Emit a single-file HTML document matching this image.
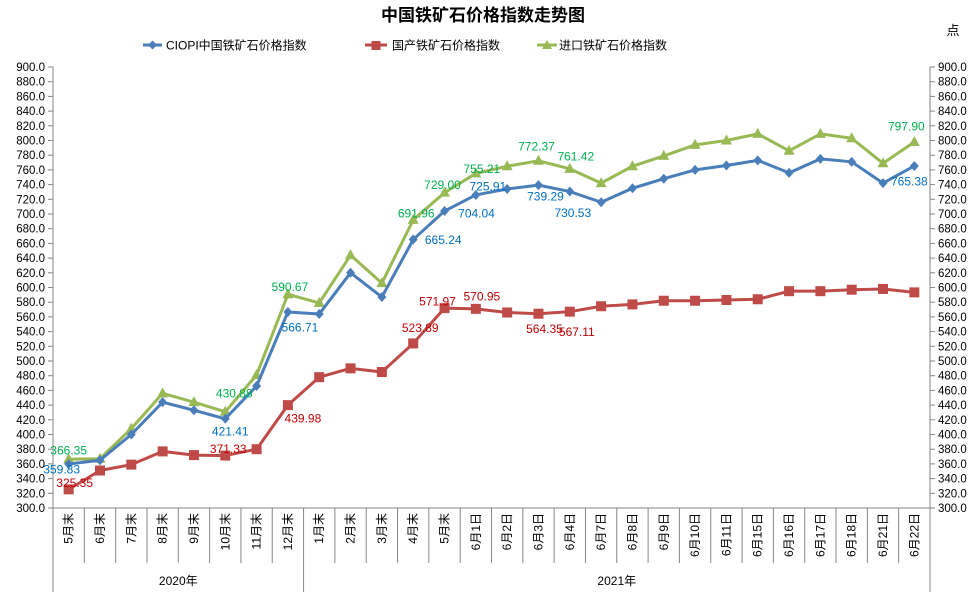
<!DOCTYPE html>
<html><head><meta charset="utf-8"><style>
html,body{margin:0;padding:0;background:#fff;}
svg{display:block;font-family:"Liberation Sans","Noto Sans CJK SC",sans-serif;}
</style></head><body>
<svg id="chart" width="977" height="592" viewBox="0 0 977 592">
<text x="483" y="21" text-anchor="middle" font-size="17" font-weight="bold" fill="#000">中国铁矿石价格指数走势图</text>
<text x="953" y="35" text-anchor="middle" font-size="13" fill="#000">点</text>
<g>
<g><line x1="143" y1="45" x2="162" y2="45" stroke="#4a7ebb" stroke-width="3"/><path d="M152.5 40.5 L157 45 L152.5 49.5 L148 45Z" fill="#4a7ebb"/><text x="166" y="49.5" font-size="12">CIOPI中国铁矿石价格指数</text></g>
<g><line x1="365" y1="45" x2="387" y2="45" stroke="#be4b48" stroke-width="3"/><rect x="371.5" y="41" width="9" height="9" fill="#be4b48"/><text x="392" y="49.5" font-size="12">国产铁矿石价格指数</text></g>
<g><line x1="537" y1="45" x2="557" y2="45" stroke="#98b954" stroke-width="3"/><path d="M547 40 L552 49 L542 49Z" fill="#98b954"/><text x="559" y="49.5" font-size="12">进口铁矿石价格指数</text></g>
</g>
<g id="axes"></g>
<g id="series"></g>
<g id="labels"></g>
</svg>
<script>
const categories=["5月末","6月末","7月末","8月末","9月末","10月末","11月末","12月末","1月末","2月末","3月末","4月末","5月末","6月1日","6月2日","6月3日","6月4日","6月7日","6月8日","6月9日","6月10日","6月11日","6月15日","6月16日","6月17日","6月18日","6月21日","6月22日"];
const groups=[{name:"2020年",start:0,end:8},{name:"2021年",start:8,end:28}];
const ciopi=[359.83,365,400,444,433,421.41,466,566.71,564,620,587,665.24,704.04,725.91,734,739.29,730.53,716,735,748,760,766,773,756,775,771,742,765.38];
const domestic=[325.35,351,359,377,372,371.33,380,439.98,478,490,485,523.89,571.97,570.95,566,564.35,567.11,574.5,577,582,582,583,584,595,595,597,598,593.36];
const imported=[366.35,367,408,456,444,430.88,481,590.67,579,644,606,691.96,729.00,755.21,765,772.37,761.42,742,765,779,794,800,809,786,809,803,769,797.90];
const yTicks=[300,320,340,360,380,400,420,440,460,480,500,520,540,560,580,600,620,640,660,680,700,720,740,760,780,800,820,840,860,880,900];
// labelled points: [series, index, dx, dy]
const ciopiLabels=[[0,-7,5],[5,5,12],[7,12,15],[11,30,0],[12,32,2],[13,12,-9],[15,7,11],[16,3,21],[27,-5,15]];
const domesticLabels=[[0,6,-7],[5,3,-7],[7,15,13],[11,7,-16],[12,-7,-7],[13,6,-13],[15,6,15],[16,7,20]];
const importLabels=[[0,0,-9],[5,9,-19],[7,2,-8],[11,3,-7],[12,-2,-8],[13,6,-5],[15,-2,-15],[16,6,-13],[27,-8,-16]];

const L=53,R=930,T=67,B=508,yMin=300,yMax=900;
const bw=(R-L)/categories.length;
const xs=i=>L+(i+0.5)*bw;
const ys=v=>B-(v-yMin)/(yMax-yMin)*(B-T);
const NS="http://www.w3.org/2000/svg";
function mk(tag,attrs,parent){const e=document.createElementNS(NS,tag);for(const k in attrs)e.setAttribute(k,attrs[k]);parent.appendChild(e);return e;}
const ax=document.getElementById("axes");
// axes lines
let e=mk("line",{x1:L,y1:T,x2:L,y2:B,stroke:"#868686"},ax);


e=mk("line",{x1:R,y1:T,x2:R,y2:B,stroke:"#868686"},ax);


e=mk("line",{x1:L,y1:B,x2:R,y2:B,stroke:"#868686"},ax);


yTicks.forEach(v=>{
  const y=ys(v);
  mk("line",{x1:L-5,y1:y,x2:L,y2:y,stroke:"#868686"},ax);
  mk("line",{x1:R,y1:y,x2:R+5,y2:y,stroke:"#868686"},ax);
  let t=mk("text",{x:L-8,y:y+4,"text-anchor":"end","font-size":"11.5",fill:"#000"},ax);
  t.textContent=v.toFixed(1);
  
  
  t=mk("text",{x:R+8,y:y+4,"text-anchor":"start","font-size":"11.5",fill:"#000"},ax);
  t.textContent=v.toFixed(1);
  
  
});
for(let i=0;i<=categories.length;i++){
  const x=L+i*bw;
  const isGroup=groups.some(g=>g.start===i)||i===categories.length;
  mk("line",{x1:x,y1:B,x2:x,y2:isGroup?592:563,stroke:"#868686"},ax);
}
categories.forEach((c,i)=>{
  const x=xs(i);
  const t=mk("text",{x:0,y:0,"text-anchor":"end","font-size":"12",fill:"#000",transform:`translate(${x+4},513) rotate(-90)`},ax);
  t.textContent=c;
  
  
});
groups.forEach(g=>{
  const t=mk("text",{x:(L+g.start*bw+L+g.end*bw)/2,y:585,"text-anchor":"middle","font-size":"12",fill:"#000"},ax);
  t.textContent=g.name;
  
  
});
const sg=document.getElementById("series");
function drawSeries(vals,color,marker,name){
  const g=mk("g",{},sg);
  
  
  mk("polyline",{points:vals.map((v,i)=>xs(i)+","+ys(v)).join(" "),fill:"none",stroke:color,"stroke-width":"3","stroke-linejoin":"round"},g);
  vals.forEach((v,i)=>{
    const x=xs(i),y=ys(v);let m;
    if(marker==="d")m=mk("path",{d:`M${x} ${y-5}L${x+4.5} ${y}L${x} ${y+5}L${x-4.5} ${y}Z`,fill:color},g);
    else if(marker==="s")m=mk("rect",{x:x-5,y:y-5,width:10,height:10,fill:color},g);
    else m=mk("path",{d:`M${x} ${y-6}L${x+5.5} ${y+4}L${x-5.5} ${y+4}Z`,fill:color},g);
    
    
  });
}
drawSeries(domestic,"#be4b48","s","domestic-series");
drawSeries(imported,"#98b954","t","import-series");
drawSeries(ciopi,"#4a7ebb","d","ciopi-series");
const lg=document.getElementById("labels");
function drawLabels(vals,list,color,name){
  list.forEach(([i,dx,dy])=>{
    const t=mk("text",{x:xs(i)+dx,y:ys(vals[i])+dy+4.5,"text-anchor":"middle","font-size":"12",fill:color},lg);
    t.textContent=vals[i].toFixed(2);
    
    
  });
}
drawLabels(ciopi,ciopiLabels,"#0070c0","ciopi-value-label");
drawLabels(domestic,domesticLabels,"#c00000","domestic-value-label");
drawLabels(imported,importLabels,"#00b050","import-value-label");
</script>
</body></html>
